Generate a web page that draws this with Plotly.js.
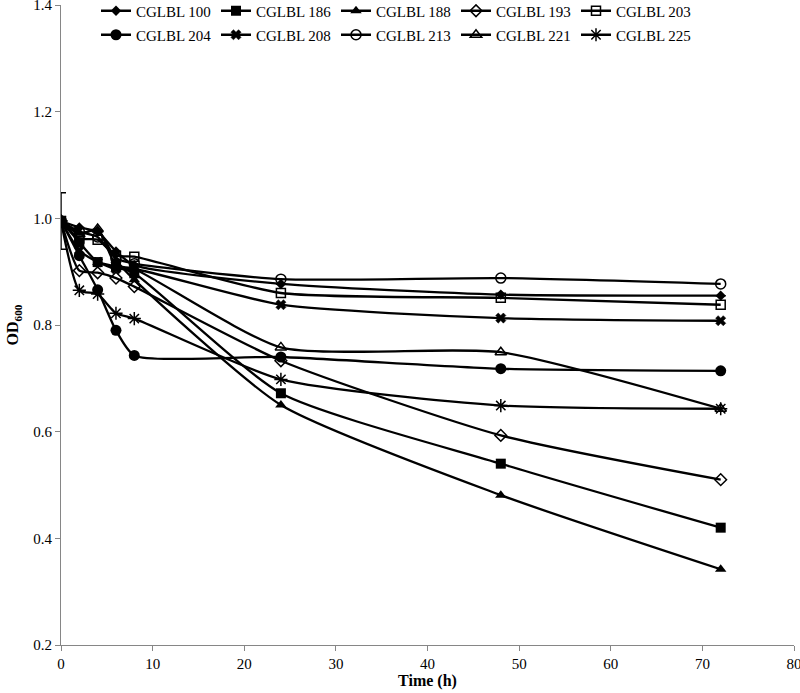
<!DOCTYPE html>
<html><head><meta charset="utf-8">
<script src="https://cdn.plot.ly/plotly-3.0.1.min.js"></script>
<style>html,body{margin:0;padding:0;background:#fff}#chart{width:800px;height:693px}</style>
</head><body><div id="chart"></div>
<script>
const time = [0, 2, 4, 6, 8, 24, 48, 72];
const names = ["CGLBL 100","CGLBL 186","CGLBL 188","CGLBL 193","CGLBL 203","CGLBL 204","CGLBL 208","CGLBL 213","CGLBL 221","CGLBL 225"];
const s100 = [0.995, 0.983, 0.975, 0.938, 0.912, 0.877, 0.857, 0.855];
const s186 = [0.995, 0.955, 0.918, 0.910, 0.897, 0.672, 0.540, 0.420];
const s188 = [0.995, 0.972, 0.978, 0.922, 0.885, 0.650, 0.481, 0.342];
const s193 = [0.995, 0.902, 0.898, 0.888, 0.872, 0.733, 0.593, 0.510];
const s203 = [0.995, 0.962, 0.960, 0.930, 0.928, 0.860, 0.851, 0.838];
const s204 = [0.995, 0.930, 0.866, 0.790, 0.743, 0.740, 0.718, 0.714];
const s208 = [0.995, 0.940, 0.918, 0.905, 0.905, 0.838, 0.813, 0.808];
const s213 = [0.995, 0.975, 0.965, 0.925, 0.915, 0.886, 0.888, 0.877];
const s221 = [0.995, 0.970, 0.980, 0.912, 0.905, 0.758, 0.749, 0.643];
const s225 = [0.995, 0.865, 0.858, 0.822, 0.812, 0.698, 0.649, 0.643];
const errFirst = [0.053, 0, 0, 0, 0, 0, 0, 0];

const series = [s100, s186, s188, s193, s203, s204, s208, s213, s221, s225];
const symbols = ["diamond","square","triangle-up","diamond-open","square-open","circle","x","circle-open","triangle-up-open","asterisk-open"];
const sizes = [8, 10, 10, 9, 9, 11, 9, 10, 10, 11];

const traces = series.map((y, i) => ({
  x: time, y: y, name: names[i], type: "scatter", mode: "lines+markers",
  legend: i < 5 ? "legend" : "legend2",
  line: {color: "#000", width: 2.3, shape: "spline", smoothing: 0.6},
  marker: {symbol: symbols[i], size: sizes[i], color: "#000",
           line: {color: "#000", width: symbols[i].endsWith("open") ? 1.5 : (symbols[i] === "x" ? 0.5 : 0)}},
  error_y: i === 0 ? {type: "data", array: errFirst, visible: true, color: "#000", thickness: 1.5, width: 5} : {visible: false}
}));

const fontFam = "'Liberation Serif', 'Times New Roman', Times, serif";
const legBase = {orientation: "h", x: 0.12, xref: "container", xanchor: "left", yref: "container", yanchor: "middle",
           entrywidth: 75, entrywidthmode: "pixels", font: {family: fontFam, size: 15, color: "#000"},
           bgcolor: "rgba(0,0,0,0)", itemwidth: 30};
const layout = {
  width: 800, height: 693,
  margin: {l: 61, r: 6, t: 5, b: 48, autoexpand: false},
  paper_bgcolor: "#fff", plot_bgcolor: "#fff",
  font: {family: fontFam, size: 15, color: "#000"},
  showlegend: true,
  legend: Object.assign({}, legBase, {y: 1 - 11/693}),
  legend2: Object.assign({}, legBase, {y: 1 - 35/693}),
  xaxis: {range: [0, 80], dtick: 10, showgrid: false, zeroline: false, showline: true, linecolor: "#868686", linewidth: 1,
          ticks: "outside", ticklen: 5, tickcolor: "#868686", tickfont: {family: fontFam, size: 15, color: "#000"},
          ticklabeloverflow: "allow",
          title: {text: "<b>Time (h)</b>", font: {family: fontFam, size: 16, color: "#000"}, standoff: 0}},
  yaxis: {range: [0.2, 1.4], dtick: 0.2, tickformat: ".1f", showgrid: false, zeroline: false, showline: true, linecolor: "#868686", linewidth: 1,
          ticks: "outside", ticklen: 5, tickcolor: "#868686", tickfont: {family: fontFam, size: 15, color: "#000"},
          ticklabeloverflow: "allow",
          title: {text: "<b>OD<sub>600</sub></b>", font: {family: fontFam, size: 16, color: "#000"}, standoff: 10}}
};
Plotly.newPlot("chart", traces, layout, {displayModeBar: false, staticPlot: true});
</script></body></html>
